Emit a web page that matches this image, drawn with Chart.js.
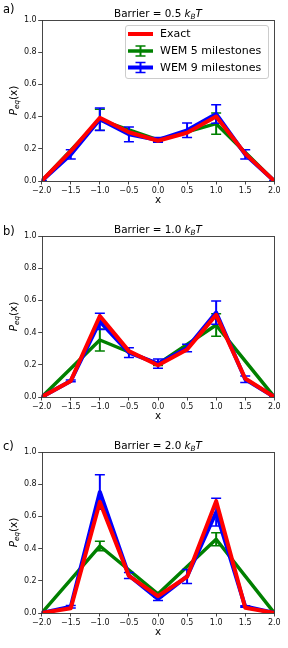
<!DOCTYPE html>
<html><head><meta charset="utf-8">
<script src="https://cdn.jsdelivr.net/npm/chart.js@4.4.0/dist/chart.umd.min.js"></script>
<style>html,body{margin:0;padding:0;background:#fff;} canvas{display:block;}</style>
</head><body>
<canvas id="ca" width="288" height="216"></canvas>
<canvas id="cb" width="288" height="216"></canvas>
<canvas id="cc" width="288" height="216"></canvas>
<script>
// ---- data ----
const xs9 = [-2, -1.5, -1, -0.5, 0, 0.5, 1, 1.5, 2];
const xs5 = [-2, -1, 0, 1, 2];
const xTicks = [-2, -1.5, -1, -0.5, 0, 0.5, 1, 1.5, 2];
const yTicks = [0, 0.2, 0.4, 0.6, 0.8, 1.0];
const panelLabels = ['a)', 'b)', 'c)'];
const barriers = ['0.5', '1.0', '2.0'];
const seriesNames = ['Exact', 'WEM 5 milestones', 'WEM 9 milestones'];

const exactA = [0, 0.185, 0.393, 0.303, 0.25, 0.30, 0.40, 0.17, 0];
const wem5A  = [0, 0.38, 0.255, 0.356, 0];
const err5A  = [0, 0.065, 0.01, 0.066, 0];
const wem9A  = [0, 0.165, 0.383, 0.29, 0.255, 0.315, 0.416, 0.165, 0];
const err9A  = [0.003, 0.029, 0.07, 0.046, 0.015, 0.045, 0.058, 0.029, 0.003];

const exactB = [0, 0.10, 0.503, 0.285, 0.197, 0.295, 0.51, 0.115, 0];
const wem5B  = [0, 0.354, 0.205, 0.447, 0];
const err5B  = [0, 0.068, 0.01, 0.07, 0];
const wem9B  = [0, 0.10, 0.47, 0.276, 0.207, 0.304, 0.524, 0.11, 0];
const err9B  = [0.003, 0.005, 0.05, 0.03, 0.029, 0.023, 0.072, 0.02, 0.003];

const exactC = [0, 0.03, 0.69, 0.23, 0.105, 0.225, 0.695, 0.033, 0];
const wem5C  = [0, 0.416, 0.118, 0.458, 0];
const err5C  = [0, 0.029, 0.01, 0.041, 0];
const wem9C  = [0, 0.039, 0.752, 0.233, 0.088, 0.227, 0.626, 0.04, 0];
const err9C  = [0.003, 0.008, 0.107, 0.018, 0.01, 0.043, 0.086, 0.005, 0.003];

const panels = [
  {exact: exactA, w5: wem5A, e5: err5A, w9: wem9A, e9: err9A},
  {exact: exactB, w5: wem5B, e5: err5B, w9: wem9B, e9: err9B},
  {exact: exactC, w5: wem5C, e5: err5C, w9: wem9C, e9: err9C}
];
const labelBaselines = [13, 18.5, 18];

const RED = '#ff0000', GREEN = '#008000', BLUE = '#0000ff';
const FONT = '"DejaVu Sans", sans-serif';

function pts(xs, ys) { return xs.map((x, i) => ({x: x, y: ys[i]})); }

function drawRich(ctx, parts, x, y, align) {
  let total = 0;
  parts.forEach(p => { ctx.font = p.f; total += ctx.measureText(p.t).width; });
  let cx = align === 'center' ? x - total / 2 : x;
  parts.forEach(p => {
    ctx.font = p.f;
    ctx.fillText(p.t, cx, y + (p.dy || 0));
    cx += ctx.measureText(p.t).width;
  });
}

const errPlugin = {
  id: 'errbars',
  afterDatasetDraw(chart, args) {
    const ds = chart.data.datasets[args.index];
    if (!ds.errors) return;
    const ctx = chart.ctx, ys = chart.scales.y, a = chart.chartArea;
    ctx.save();
    ctx.beginPath(); ctx.rect(a.left, a.top, a.right - a.left, a.bottom - a.top); ctx.clip();
    ctx.strokeStyle = ds.borderColor;
    args.meta.data.forEach((el, i) => {
      const v = ds.data[i].y, e = ds.errors[i];
      const x = el.x;
      const t = ys.getPixelForValue(v + e), b = ys.getPixelForValue(v - e);
      ctx.lineWidth = 2;
      ctx.beginPath(); ctx.moveTo(x, t); ctx.lineTo(x, b); ctx.stroke();
      ctx.lineWidth = 1.5;
      ctx.beginPath();
      ctx.moveTo(x - 5, t); ctx.lineTo(x + 5, t);
      ctx.moveTo(x - 5, b); ctx.lineTo(x + 5, b);
      ctx.stroke();
    });
    ctx.restore();
  }
};

const decoPlugin = {
  id: 'deco',
  afterDraw(chart) {
    const o = chart.options.plugins.deco;
    const ctx = chart.ctx, a = chart.chartArea;
    ctx.save();
    // frame
    ctx.strokeStyle = '#333'; ctx.lineWidth = 0.9;
    ctx.strokeRect(Math.round(a.left) + 0.5, Math.round(a.top) + 0.5,
                   Math.round(a.right) - Math.round(a.left), Math.round(a.bottom) - Math.round(a.top));
    ctx.fillStyle = '#000';
    ctx.textBaseline = 'alphabetic';
    const cx = (a.left + a.right) / 2;
    // title
    drawRich(ctx, [
      {t: 'Barrier = ' + o.barrier + ' ', f: '10.4px ' + FONT},
      {t: 'k', f: 'italic 10.4px ' + FONT},
      {t: 'B', f: 'italic 7.3px ' + FONT, dy: 2},
      {t: 'T', f: 'italic 10.4px ' + FONT}
    ], cx, 16.5, 'center');
    // panel label
    ctx.font = '11.5px ' + FONT;
    ctx.textAlign = 'left';
    ctx.fillText(o.label, 3, o.labelY);
    // x label
    ctx.font = '10.4px ' + FONT;
    ctx.textAlign = 'left';
    drawRich(ctx, [{t: 'x', f: '10.4px ' + FONT}], cx, 203, 'center');
    // y label
    ctx.save();
    ctx.translate(16.5, (a.top + a.bottom) / 2);
    ctx.rotate(-Math.PI / 2);
    drawRich(ctx, [
      {t: 'P', f: 'italic 10.4px ' + FONT},
      {t: 'eq', f: 'italic 7.3px ' + FONT, dy: 2},
      {t: '(x)', f: '10.4px ' + FONT}
    ], 0, 0, 'center');
    ctx.restore();
    // legend
    if (o.legend) {
      const bx = 125.5, by = 25.5, bw = 143, bh = 53;
      ctx.fillStyle = 'rgba(255,255,255,0.85)';
      ctx.strokeStyle = '#cccccc'; ctx.lineWidth = 1;
      ctx.beginPath();
      if (ctx.roundRect) ctx.roundRect(bx, by, bw, bh, 2.5); else ctx.rect(bx, by, bw, bh);
      ctx.fill(); ctx.stroke();
      const rows = [{c: RED, y: 34, err: false, w: 4}, {c: GREEN, y: 51, err: true, w: 3.5}, {c: BLUE, y: 67.5, err: true, w: 4}];
      rows.forEach((r, i) => {
        ctx.strokeStyle = r.c; ctx.lineWidth = r.w; ctx.lineCap = 'butt';
        ctx.beginPath(); ctx.moveTo(128, r.y); ctx.lineTo(153, r.y); ctx.stroke();
        if (r.err) {
          ctx.lineWidth = 2;
          ctx.beginPath(); ctx.moveTo(140.5, r.y - 5); ctx.lineTo(140.5, r.y + 5); ctx.stroke();
          ctx.lineWidth = 1.5;
          ctx.beginPath();
          ctx.moveTo(135.5, r.y - 5); ctx.lineTo(145.5, r.y - 5);
          ctx.moveTo(135.5, r.y + 5); ctx.lineTo(145.5, r.y + 5);
          ctx.stroke();
        }
        ctx.fillStyle = '#000';
        ctx.font = '11px ' + FONT;
        ctx.textBaseline = 'middle';
        ctx.fillText(seriesNames[i], 160, r.y + 0.5);
      });
    }
    ctx.restore();
  }
};

function makeChart(id, idx) {
  const p = panels[idx];
  new Chart(document.getElementById(id), {
    type: 'line',
    data: {
      datasets: [
        {label: seriesNames[0], data: pts(xs9, p.exact), borderColor: RED, borderWidth: 4,
         pointRadius: 0, tension: 0, clip: 0, borderJoinStyle: 'round', borderCapStyle: 'square'},
        {label: seriesNames[2], data: pts(xs9, p.w9), errors: p.e9, borderColor: BLUE, borderWidth: 4,
         pointRadius: 0, tension: 0, clip: 0, borderJoinStyle: 'round', borderCapStyle: 'square'},
        {label: seriesNames[1], data: pts(xs5, p.w5), errors: p.e5, borderColor: GREEN, borderWidth: 3.5,
         pointRadius: 0, tension: 0, clip: 0, borderJoinStyle: 'round', borderCapStyle: 'square'}
      ]
    },
    options: {
      responsive: false, animation: false, devicePixelRatio: 1,
      layout: {padding: {left: 0, right: 13.7, top: 20, bottom: 0}},
      plugins: {
        legend: {display: false}, tooltip: {enabled: false}, title: {display: false},
        deco: {barrier: barriers[idx], label: panelLabels[idx], labelY: labelBaselines[idx], legend: idx === 0}
      },
      scales: {
        x: {
          type: 'linear', min: -2, max: 2,
          afterFit(s) { s.height = 35; },
          afterBuildTicks(s) { s.ticks = xTicks.map(v => ({value: v})); },
          grid: {display: true, drawOnChartArea: false, drawTicks: true, tickLength: 3.5, tickColor: '#333', tickWidth: 0.9},
          border: {display: false},
          ticks: {autoSkip: false, maxRotation: 0, padding: 1.5, color: '#111', font: {family: FONT, size: 8},
                  callback: v => (v < 0 ? '\u2212' : '') + Math.abs(v).toFixed(1)}
        },
        y: {
          type: 'linear', min: 0, max: 1,
          afterFit(s) { s.width = 41.7; },
          afterBuildTicks(s) { s.ticks = yTicks.map(v => ({value: v})); },
          grid: {display: true, drawOnChartArea: false, drawTicks: true, tickLength: 3.5, tickColor: '#333', tickWidth: 0.9},
          border: {display: false},
          ticks: {padding: 1.5, color: '#111', font: {family: FONT, size: 8},
                  callback: v => v.toFixed(1)}
        }
      }
    },
    plugins: [errPlugin, decoPlugin]
  });
}
makeChart('ca', 0);
makeChart('cb', 1);
makeChart('cc', 2);
</script>
</body></html>
